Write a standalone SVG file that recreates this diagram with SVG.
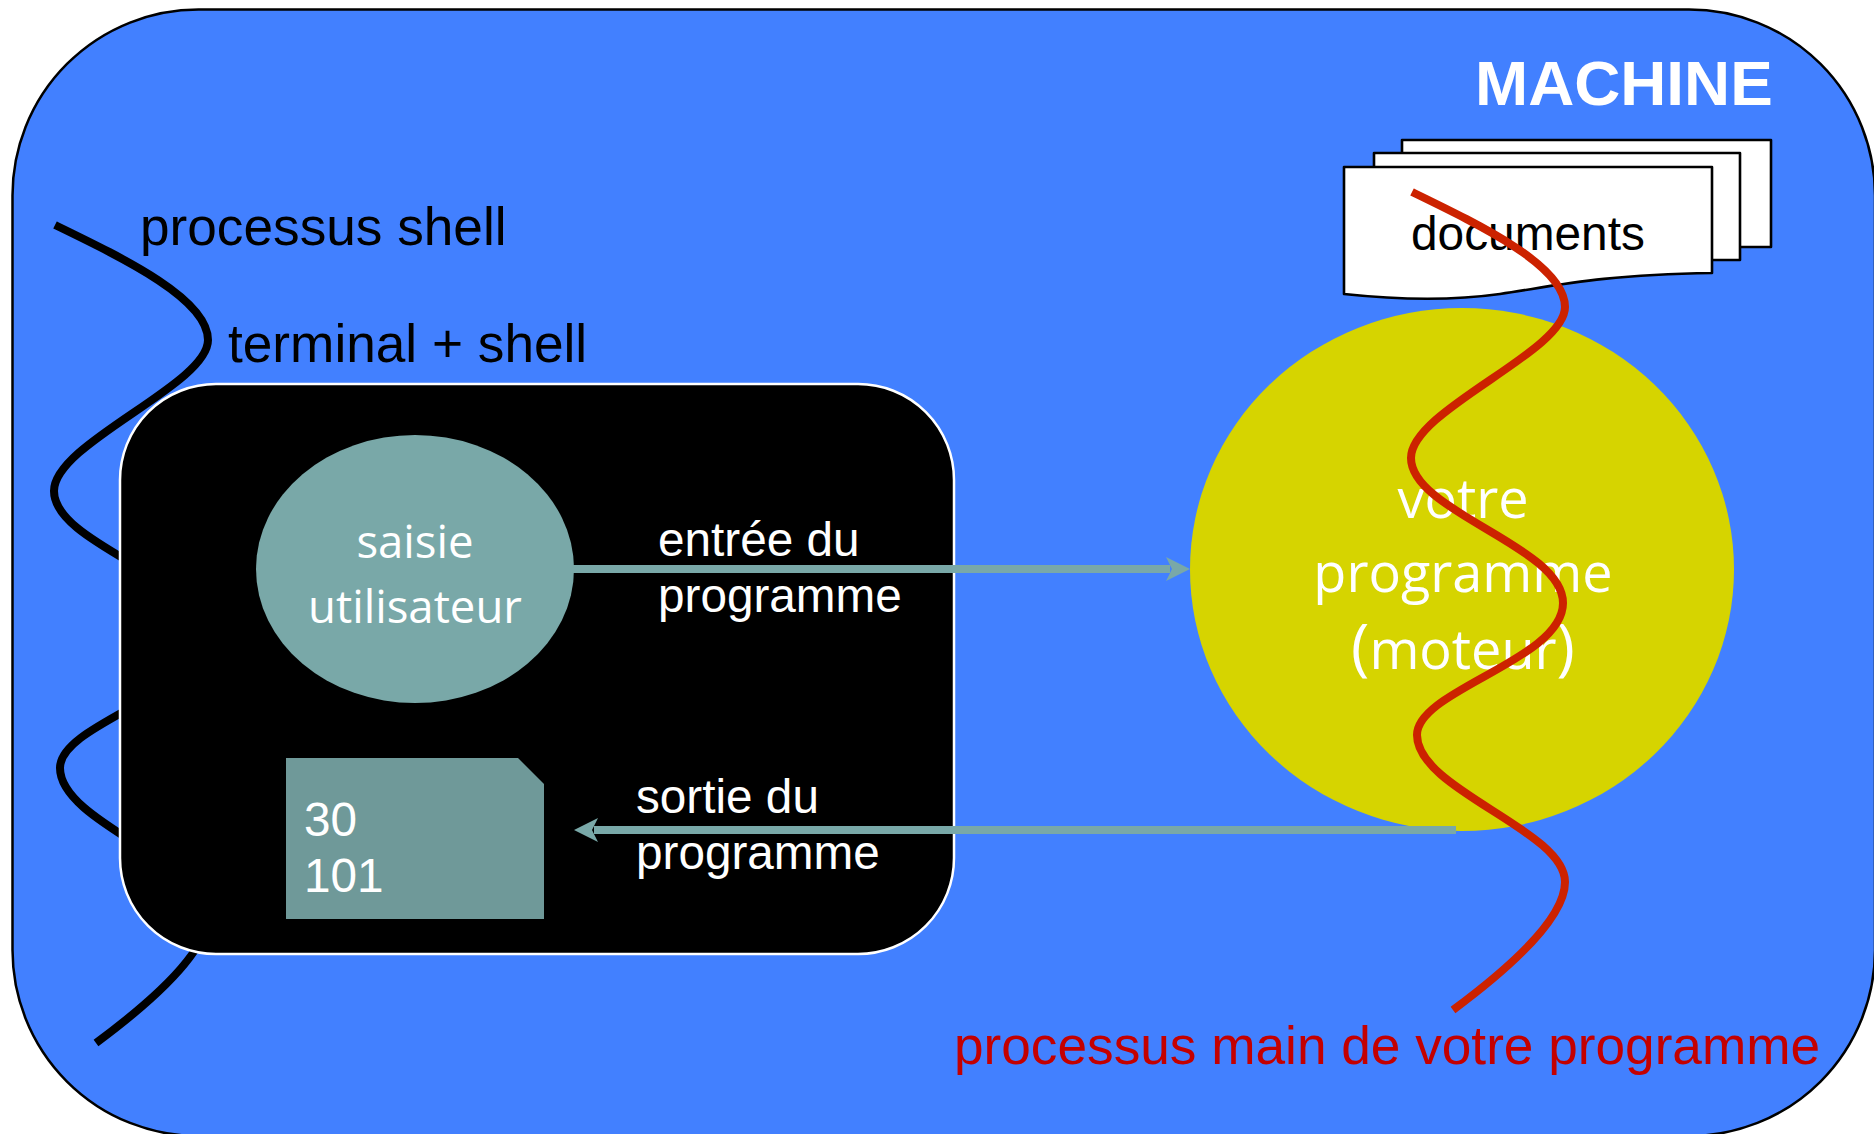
<svg xmlns="http://www.w3.org/2000/svg" width="1874" height="1134" viewBox="0 0 1874 1134">
<style>
text{font-family:"Liberation Sans",Arial,sans-serif;font-size:47.7px;fill:#fff}
.big{font-size:53.2px;fill:#000}
.soft{font-family:"Open Sans","Noto Sans",sans-serif;text-anchor:middle}
.sheet{fill:#fff;stroke:#000;stroke-width:2.6;stroke-linejoin:round}
.proc{fill:none;stroke-width:8}
.flow{fill:none;stroke:#79a8a8;stroke-width:8}
</style>
<defs>
<path id="proc" d="M1412 192C1482 226 1565 266 1565 307C1565 352 1411 410 1411 458C1411 512 1563 546 1563 603C1563 660 1417 690 1417 735C1417 790 1565 830 1565 882C1565 925 1484 987 1453 1010"/>
<marker id="head" markerUnits="userSpaceOnUse" markerWidth="26" markerHeight="26" refX="4" refY="12.5" orient="auto"><path d="M0 0.5L24 12.5L0 24.5L6 12.5Z" fill="#79a8a8"/></marker>
</defs>
<g id="machine">
<rect x="12.5" y="9.5" width="1862.5" height="1126.5" rx="186" ry="186" fill="#4280ff" stroke="#000" stroke-width="2.5"/>
<text x="1475" y="105" style="font-size:63.8px;font-weight:bold">MACHINE</text>
</g>
<g id="processus-shell">
<use href="#proc" transform="translate(-1357 33)" class="proc" stroke="#000"/>
<text x="140" y="245" class="big">processus shell</text>
</g>
<g id="terminal">
<rect x="120" y="384" width="834" height="570" rx="96" ry="96" fill="#000" stroke="#fff" stroke-width="2.5"/>
<text x="228" y="362" class="big">terminal + shell</text>
</g>
<g id="saisie">
<ellipse cx="415" cy="569" rx="159" ry="134" fill="#79a8a8"/>
<text class="soft" x="415" y="558" style="font-size:45.5px">saisie</text>
<text class="soft" x="415" y="623" style="font-size:45.5px">utilisateur</text>
</g>
<g id="sortie">
<path d="M286 758H518L544 784V919H286Z" fill="#6f9999"/>
<text x="304" y="836">30</text>
<text x="304" y="892">101</text>
</g>
<g id="documents">
<path class="sheet" d="M1402 140H1771V247H1402Z"/>
<path class="sheet" d="M1374 153H1740V260H1374Z"/>
<path class="sheet" d="M1344 167H1712V273C1600 275 1560 285 1500 294C1450 301 1400 300 1344 294Z"/>
<text x="1411" y="250" style="font-size:47.8px;fill:#000">documents</text>
</g>
<g id="programme">
<ellipse cx="1462" cy="569.5" rx="272" ry="261.5" fill="#d6d400"/>
<text class="soft" x="1463" y="518" style="font-size:54px">votre</text>
<text class="soft" x="1463" y="592" style="font-size:54px">programme</text>
<text class="soft" x="1463" y="669" style="font-size:54px"><tspan style="font-size:62px">(</tspan>moteur<tspan style="font-size:62px">)</tspan></text>
</g>
<g id="connectors">
<path class="flow" d="M573 569H1170" marker-end="url(#head)"/>
<path class="flow" d="M1456 830H594" marker-end="url(#head)"/>
</g>
<g id="labels">
<text x="658" y="556">entrée du</text>
<text x="658" y="612">programme</text>
<text x="636" y="813">sortie du</text>
<text x="636" y="869">programme</text>
</g>
<g id="processus-main">
<use href="#proc" class="proc" stroke="#cc2200"/>
<text x="954" y="1064" class="big" style="fill:#c40000">processus main de votre programme</text>
</g>
</svg>
